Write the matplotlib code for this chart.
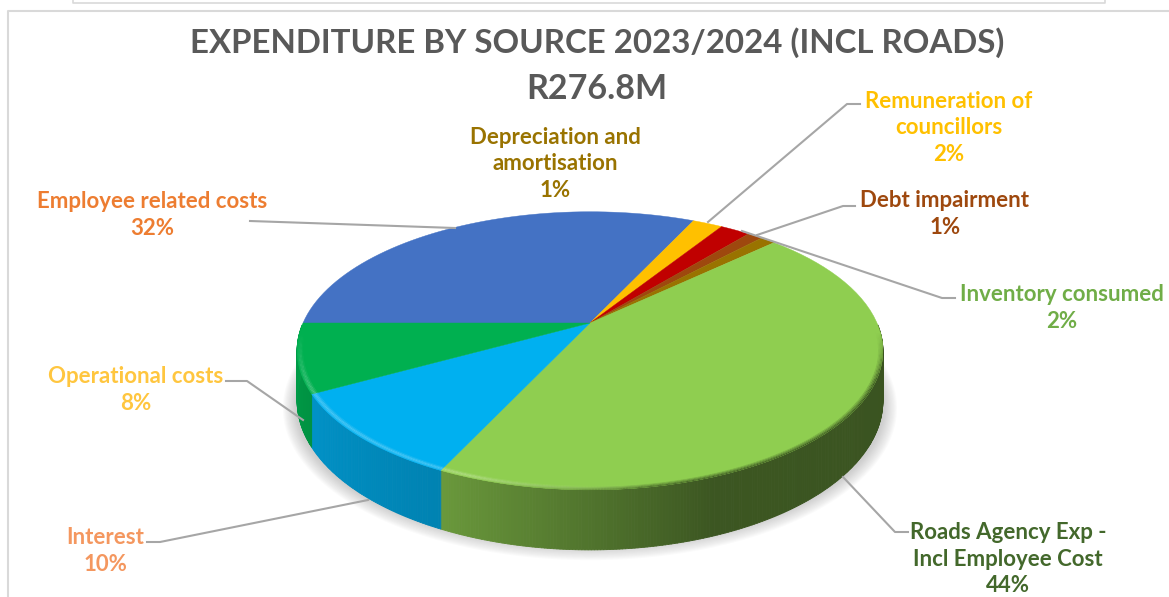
import matplotlib
matplotlib.use('Agg')
import matplotlib.pyplot as plt
import matplotlib.colors as mcolors
from matplotlib.collections import PolyCollection
import numpy as np

# Slices, clockwise from the left edge of the pie
slice_names = ['Employee related costs', 'Remuneration of\ncouncillors', 'Inventory consumed',
               'Debt impairment', 'Depreciation and\namortisation',
               'Roads Agency Exp -\nIncl Employee Cost', 'Interest', 'Operational costs']
slice_share = [32, 2, 2, 1, 1, 44, 10, 8]
slice_colors = ['#4472C4', '#FFC000', '#C00000', '#9E480E', '#997300', '#8FCE50', '#00B0F0', '#00B050']
label_colors = ['#ED7D31', '#FFC000', '#70AD47', '#9E480E', '#997300', '#43682B', '#F4975F', '#FFC63F']

# Label centres and leader lines, in pixels
label_pos = [(152, 215), (949, 128), (1062, 308), (945, 214), (555, 164), (1008, 559), (105, 551), (136, 390)]
leaders = [[(250, 221), (455, 228)],
           [(708, 222), (847, 104), (860, 104)],
           [(742, 231), (942, 298), (955, 298)],
           [(757, 235), (843, 206), (855, 206)],
           None,
           [(843, 477), (895, 532), (908, 532)],
           [(147, 542), (160, 542), (368, 500)],
           [(303, 420), (247, 381), (226, 381)]]

# Pie geometry: centre, radius, flattening, perspective, wall depth
cx, cy = 590, 323
R, S, K, DEPTH = 287, 133.5, 0.2, 48


def project(t, r=1.0):
    # unit circle angle (degrees) to picture pixels
    t = np.radians(t)
    x, y = r * np.cos(t), r * np.sin(t)
    w = 1 + K * y
    return cx + R * x / w, cy - S * y / w


def wall_drop(t):
    return DEPTH / (1 + K * np.sin(np.radians(t)))


def shade(color, f):
    c = np.array(mcolors.to_rgb(color)) * f
    return tuple(np.clip(c, 0, 1))


def lighten(color, f):
    c = np.array(mcolors.to_rgb(color))
    return tuple(c + (1 - c) * f)


fig = plt.figure(figsize=(11.69, 5.97), dpi=100)
ax = fig.add_axes([0, 0, 1, 1])
ax.set_xlim(0, 1169)
ax.set_ylim(597, 0)
ax.axis('off')
plt.rcParams['font.family'] = ['Lato', 'DejaVu Sans']

# Frame lines of the screenshot
ax.plot([8, 8, 1169], [597, 11, 11], color='#D9D9D9', lw=1.5)
ax.plot([73, 73, 1105, 1105], [0, 3, 3, 0], color='#D9D9D9', lw=1.2)

# Soft shadow below the pie
ring = np.linspace(0, 360, 200)
for grow in np.linspace(14, 1, 12):
    px, py = project(ring)
    py = py + DEPTH + 8
    mx, my = px.mean(), py.mean()
    ax.fill(mx + (px - mx) * (1 + grow / 290), my + (py - my) * (1 + grow / 150),
            color='#808080', alpha=0.035, lw=0, zorder=1)

# Slice limits, going clockwise from 180 degrees
edges = 180 - np.cumsum([0] + slice_share) * 3.6

# Outer wall
wall_t = [-180, -115, -70, 0]
wall_f = [0.90, 0.74, 0.42, 0.40]
quads, quad_colors = [], []
for i, col in enumerate(slice_colors):
    for t0 in np.arange(edges[i], edges[i + 1], -0.5):
        t1 = max(t0 - 0.5, edges[i + 1])
        m = ((t0 + t1) / 2 + 180) % 360 - 180
        if m > -1 or m < -179:
            continue
        x0, y0 = project(t0)
        x1, y1 = project(t1)
        quads.append([(x0, y0), (x1, y1), (x1, y1 + wall_drop(t1)), (x0, y0 + wall_drop(t0))])
        quad_colors.append(shade(col, np.interp(m, wall_t, wall_f)))
ax.add_collection(PolyCollection(quads, facecolors=quad_colors, edgecolors=quad_colors, lw=0.6, zorder=2))

# Top face
for i, col in enumerate(slice_colors):
    ts = np.linspace(edges[i], edges[i + 1], 60)
    px, py = project(ts)
    ax.fill(np.r_[cx, px], np.r_[cy, py], color=col, lw=0.3, zorder=3)

# Bevel on the front rim, bright on the left and blurred dark on the right
radii = np.linspace(1.0, 0.98, 6)
quads, quad_colors = [], []
for i, col in enumerate(slice_colors):
    for t0 in np.arange(edges[i], edges[i + 1], -0.5):
        t1 = max(t0 - 0.5, edges[i + 1])
        m = ((t0 + t1) / 2 + 180) % 360 - 180
        if m > -4 or m < -176:
            continue
        wall = np.array(shade(col, np.interp(m, wall_t, wall_f)))
        top = np.array(mcolors.to_rgb(col))
        fade = min(1, (m + 176) / 25, (-4 - m) / 20)
        dark = np.interp(m, [-110, -80], [0, 1])
        for n in range(len(radii) - 1):
            a, b = project(t0, radii[n]), project(t1, radii[n])
            c, d = project(t1, radii[n + 1]), project(t0, radii[n + 1])
            quads.append([a, b, c, d])
            depth = 1 - n / (len(radii) - 2)
            glow = np.array(lighten(col, 0.3 * np.sin(np.pi * (n + 0.5) / (len(radii) - 1))))
            blur = top + (wall - top) * depth
            mix = glow + (blur - glow) * dark
            quad_colors.append(tuple(np.clip(top + (mix - top) * fade, 0, 1)))
ax.add_collection(PolyCollection(quads, facecolors=quad_colors, edgecolors='none', zorder=4))

# Leader lines
for line in leaders:
    if line is None:
        continue
    xs, ys = zip(*line)
    ax.plot(xs, ys, color='#A6A6A6', lw=1.5, zorder=5, solid_joinstyle='round')

# Data labels
for name, share, col, pos in zip(slice_names, slice_share, label_colors, label_pos):
    ax.text(pos[0], pos[1], f'{name}\n{share}%', color=col, fontsize=16, fontweight='bold',
            ha='center', va='center', linespacing=1.33, zorder=6)

# Title
ax.text(597, 43, 'EXPENDITURE BY SOURCE 2023/2024 (INCL ROADS)', color='#595959', fontsize=23.8,
        fontweight='bold', ha='center', va='center')
ax.text(597, 89, 'R276.8M', color='#595959', fontsize=24.5, fontweight='bold', ha='center', va='center')

fig.savefig('out.png', dpi=100)
